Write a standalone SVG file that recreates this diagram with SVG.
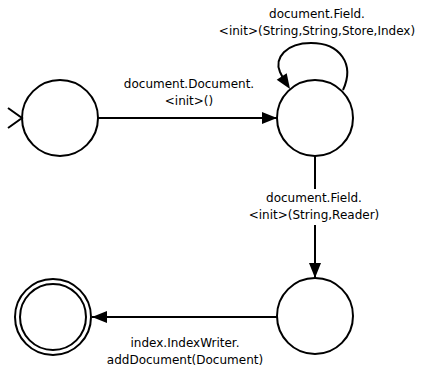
<svg xmlns="http://www.w3.org/2000/svg" width="421" height="371" viewBox="0 0 421 371">
<defs>
<marker id="arr" viewBox="0 0 15 12" refX="15" refY="6" markerWidth="15" markerHeight="12" markerUnits="userSpaceOnUse" orient="auto">
<path d="M0,0 L15,6 L0,12 Z" fill="#000"/>
</marker>
<style>
.st{fill:#fff;stroke:#000;stroke-width:2}
.ed{fill:none;stroke:#000;stroke-width:2}
.lb{font-family:"DejaVu Sans",Verdana,sans-serif;font-size:12px;fill:#000;text-anchor:middle}
</style>
</defs>
<rect width="421" height="371" fill="#fff"/>
<g id="n1"><circle class="st" cx="60" cy="118" r="38"/></g>
<g id="n2"><circle class="st" cx="315" cy="118" r="38"/></g>
<g id="n3"><circle class="st" cx="315" cy="316" r="38"/></g>
<g id="n4"><circle class="st" cx="53" cy="317" r="38"/><circle class="st" cx="53" cy="317" r="33"/></g>
<g id="connectors">
<path class="ed" d="M8,108 L22,118 L8,128"/>
<path class="ed" d="M98,118 L277,118" marker-end="url(#arr)"/>
<path class="ed" d="M343,90 C355,64 340,43 311,43 C286,43 274,58 280,72 L283,78"/>
<path d="M290,89 L276.7,79.8 L286.7,73.2 Z" fill="#000"/>
<path class="ed" d="M315,156 L315,278" marker-end="url(#arr)"/>
<path class="ed" d="M277,317 L92,317" marker-end="url(#arr)"/>
</g>
<g id="labels">
<text class="lb" x="189" y="88">document.Document.</text>
<text class="lb" x="189" y="105">&lt;init&gt;()</text>
<text class="lb" x="317" y="18">document.Field.</text>
<text class="lb" x="317" y="35">&lt;init&gt;(String,String,Store,Index)</text>
<rect x="245" y="189" width="140" height="36" fill="#fff"/>
<text class="lb" x="314" y="202">document.Field.</text>
<text class="lb" x="314" y="219">&lt;init&gt;(String,Reader)</text>
<text class="lb" x="185" y="347">index.IndexWriter.</text>
<text class="lb" x="185" y="364">addDocument(Document)</text>
</g>
</svg>
